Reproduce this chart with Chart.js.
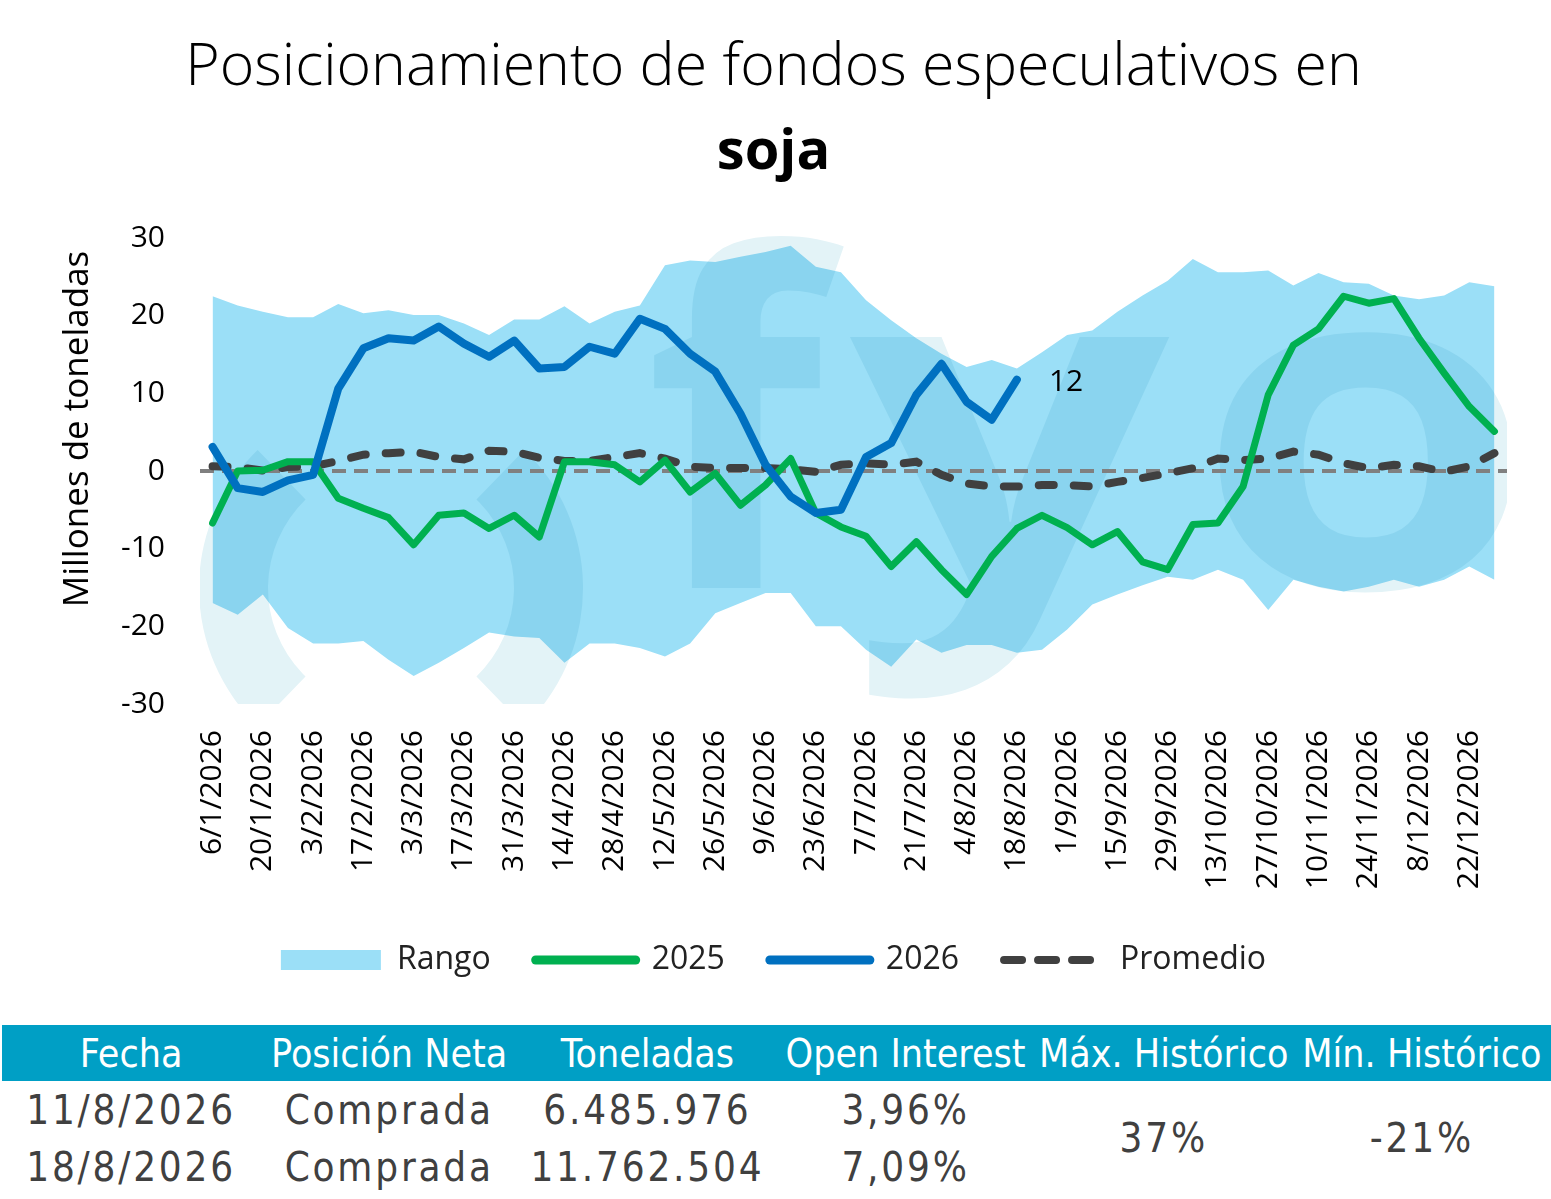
<!DOCTYPE html>
<html>
<head>
<meta charset="utf-8">
<script src="https://cdn.jsdelivr.net/npm/chart.js@4.4.1/dist/chart.umd.min.js"></script>
<style>
  body { margin: 0; background: #fff; }
  #wrap { position: relative; width: 1551px; height: 1010px; }
  table { position: absolute; top: 1025px; left: 2px; width: 1549px; border-collapse: collapse; table-layout: fixed; }
  th { background: #009fc5; color: #fff; font: 39px "DejaVu Sans Condensed", sans-serif; height: 56px; padding: 0; white-space: nowrap; overflow: hidden; }
  td { font: 40px "DejaVu Sans Condensed", sans-serif; color: #404040; letter-spacing: 2.8px; height: 57px; text-align: center; padding: 0; white-space: nowrap; }
</style>
</head>
<body>
<div id="wrap"><canvas id="grafico" width="1551" height="1010"></canvas></div>
<table id="tabla"><thead><tr id="cabecera"></tr></thead><tbody id="cuerpo"></tbody></table>
<script>
const fechas = ['6/1/2026', '13/1/2026', '20/1/2026', '27/1/2026', '3/2/2026', '10/2/2026', '17/2/2026', '24/2/2026',
  '3/3/2026', '10/3/2026', '17/3/2026', '24/3/2026', '31/3/2026', '7/4/2026', '14/4/2026', '21/4/2026', '28/4/2026',
  '5/5/2026', '12/5/2026', '19/5/2026', '26/5/2026', '2/6/2026', '9/6/2026', '16/6/2026', '23/6/2026', '30/6/2026',
  '7/7/2026', '14/7/2026', '21/7/2026', '28/7/2026', '4/8/2026', '11/8/2026', '18/8/2026', '25/8/2026', '1/9/2026',
  '8/9/2026', '15/9/2026', '22/9/2026', '29/9/2026', '6/10/2026', '13/10/2026', '20/10/2026', '27/10/2026',
  '3/11/2026', '10/11/2026', '17/11/2026', '24/11/2026', '1/12/2026', '8/12/2026', '15/12/2026', '22/12/2026', '29/12/2026'];

const serie2025 = [-6.7, 0, 0.1, 1.2, 1.2, -3.5, -4.8, -6, -9.5, -5.7, -5.4, -7.4, -5.7, -8.5, 1.2, 1.2, 0.8, -1.4,
  1.4, -2.7, -0.3, -4.4, -1.8, 1.6, -5.4, -7.2, -8.4, -12.3, -9.1, -12.7, -15.9, -11, -7.4, -5.7, -7.3,
  -9.5, -7.8, -11.7, -12.7, -6.9, -6.7, -2, 9.8, 16.2, 18.3, 22.5, 21.6, 22.2, 17.1, 12.6, 8.3, 5.1];

const serie2026 = [3.1, -2.2, -2.7, -1.2, -0.5, 10.6, 15.8, 17.1, 16.8, 18.6, 16.4, 14.7, 16.8, 13.2, 13.4, 16, 15.1, 19.6,
  18.3, 15.1, 12.8, 7.4, 0.8, -3.3, -5.4, -5, 1.8, 3.6, 9.8, 13.8, 8.9, 6.6, 11.76];

const promedio = [0.6, 0.5, 0.05, 0.5, 0.6, 1.3, 2.1, 2.3, 2.5, 1.8, 1.5, 2.6, 2.5, 1.7, 1.3, 1.3, 1.8, 2.3,
  1.6, 0.55, 0.4, 0.4, 0.4, 0.2, -0.1, 0.8, 1, 0.8, 1.2, -0.5, -1.6, -2, -2, -1.8, -1.8,
  -2, -1.4, -0.9, -0.3, 0.35, 1.6, 1.4, 1.6, 2.5, 2.1, 1, 0.35, 0.8, 0.6, -0.1, 0.6, 2.3];

const rangoMax = [22.5, 21.3, 20.5, 19.8, 19.8, 21.5, 20.3, 20.7, 20.1, 20.1, 19, 17.5, 19.5, 19.5, 21.2, 19, 20.5, 21.3,
  26.5, 27.1, 26.9, 27.6, 28.2, 29, 26.3, 25.6, 22, 19.4, 17.1, 15.1, 13.4, 14.3, 13.2, 15.3,
  17.5, 18.1, 20.5, 22.6, 24.5, 27.3, 25.6, 25.6, 25.8, 23.9, 25.5, 24.3, 24.1, 22.6, 22.1, 22.6, 24.3, 23.8];

const rangoMin = [-17, -18.5, -15.9, -20.2, -22.2, -22.2, -21.9, -24.3, -26.4, -24.7, -22.8, -20.8, -21.3, -21.5, -24.7, -22.2, -22.2, -22.8,
  -23.9, -22.2, -18.3, -17, -15.7, -15.7, -20, -20, -23, -25.2, -21.7, -23.4, -22.4, -22.4, -23.4, -23,
  -20.4, -17.2, -15.9, -14.7, -13.6, -14, -12.7, -14, -17.9, -14, -14.9, -15.5, -14.9, -14, -14.9, -14, -12.3, -14];

const columnas = ['Fecha', 'Posición Neta', 'Toneladas', 'Open Interest', 'Máx. Histórico', 'Mín. Histórico'];
const filas = [
  ['11/8/2026', 'Comprada', '6.485.976', '3,96%'],
  ['18/8/2026', 'Comprada', '11.762.504', '7,09%']
];
const maxHistorico = '37%';
const minHistorico = '-21%';
const tituloEjeY = 'Millones de toneladas';

const AZUL_RANGO = '#9bdff7';

// marca de agua "fyo" tenue, mezclada con multiply sobre el rango
const marcaAgua = {
  id: 'marcaAgua',
  afterDatasetDraw(chart, args) {
    if (args.index !== 4) return;
    const { ctx, chartArea } = chart;
    const L = chartArea.left, T = chartArea.top;
    ctx.save();
    ctx.beginPath();
    ctx.rect(chartArea.left, 0, chartArea.right - chartArea.left, chartArea.bottom);
    ctx.clip();
    ctx.globalCompositeOperation = 'multiply';
    ctx.fillStyle = '#e3f3f7';
    // anillo cortado
    const cx = L + 191, cy = T + 350, R = 192, r = 123;
    [[-46, 46], [134, 226]].forEach(([a0, a1]) => {
      ctx.beginPath();
      ctx.arc(cx, cy, R, a0 * Math.PI / 180, a1 * Math.PI / 180);
      ctx.arc(cx, cy, r, a1 * Math.PI / 180, a0 * Math.PI / 180, true);
      ctx.closePath();
      ctx.fill();
    });
    ctx.font = 'bold 460px "Open Sans", sans-serif';
    ctx.textBaseline = 'alphabetic';
    [['f', 445, 1], ['y', 650, 1.22], ['o', 995, 1.2]].forEach(([t, dx, sx]) => {
      ctx.save();
      ctx.translate(L + dx, T + 350);
      ctx.scale(sx, 1);
      ctx.fillText(t, 0, 0);
      ctx.restore();
    });
    ctx.restore();
  }
};

// linea punteada en cero, encima del rango y debajo de las series
const lineaCero = {
  id: 'lineaCero',
  afterDatasetDraw(chart, args) {
    if (args.index !== 3) return;
    const { ctx, chartArea, scales } = chart;
    const y = scales.y.getPixelForValue(0);
    ctx.save();
    ctx.strokeStyle = '#808080';
    ctx.lineWidth = 4;
    ctx.setLineDash([14, 8]);
    ctx.beginPath();
    ctx.moveTo(chartArea.left, y);
    ctx.lineTo(chartArea.right, y);
    ctx.stroke();
    ctx.restore();
  }
};

// valor del ultimo dato 2026 y titulo del eje Y (algo por encima del centro)
const textosExtra = {
  id: 'textosExtra',
  afterDatasetsDraw(chart) {
    const meta = chart.getDatasetMeta(0);
    const p = meta.data[meta.data.length - 1];
    const { ctx, chartArea } = chart;
    ctx.save();
    ctx.font = '30px "Open Sans", sans-serif';
    ctx.fillStyle = '#000';
    ctx.textAlign = 'left';
    ctx.textBaseline = 'middle';
    ctx.fillText(Math.round(serie2026[serie2026.length - 1]), p.x + 32, p.y + 3);

    ctx.translate(chartArea.left - 122, (chartArea.top + chartArea.bottom) / 2 - 42);
    ctx.rotate(-Math.PI / 2);
    ctx.textAlign = 'center';
    ctx.font = '35px "Open Sans", sans-serif';
    ctx.fillText(tituloEjeY, 0, 0);
    ctx.restore();
  }
};

const ctx = document.getElementById('grafico').getContext('2d');
const grafico = new Chart(ctx, {
  type: 'line',
  data: {
    labels: fechas,
    datasets: [{
      label: '2026',
      data: serie2026,
      borderColor: '#0070c0',
      borderWidth: 8,
      pointRadius: 0,
      borderJoinStyle: 'round',
      borderCapStyle: 'round',
      tension: 0
    }, {
      label: '2025',
      data: serie2025,
      borderColor: '#00b050',
      borderWidth: 7,
      pointRadius: 0,
      borderJoinStyle: 'round',
      borderCapStyle: 'round',
      tension: 0
    }, {
      label: 'Promedio',
      data: promedio,
      borderColor: '#404040',
      borderWidth: 8,
      borderDash: [15, 20],
      borderCapStyle: 'round',
      pointRadius: 0,
      tension: 0
    }, {
      label: 'Rango min',
      data: rangoMin,
      borderWidth: 0,
      borderColor: 'rgba(0,0,0,0)',
      pointRadius: 0,
      fill: false
    }, {
      label: 'Rango',
      data: rangoMax,
      borderWidth: 0,
      borderColor: 'rgba(0,0,0,0)',
      backgroundColor: AZUL_RANGO,
      pointRadius: 0,
      fill: '-1'
    }]
  },
  options: {
    responsive: false,
    animation: false,
    layout: { padding: { left: 40, right: 44, bottom: 24 } },
    scales: {
      x: {
        offset: true,
        grid: { display: false },
        border: { display: false },
        afterFit: (scale) => { scale.height = 195; },
        ticks: {
          autoSkip: false,
          maxRotation: 90,
          minRotation: 90,
          padding: 18,
          color: '#000',
          font: { family: 'Open Sans', size: 30 },
          callback: function (v, i) { return i % 2 === 0 ? this.getLabelForValue(v) : ''; }
        }
      },
      y: {
        min: -30,
        max: 30,
        grid: { display: false },
        border: { display: false },
        afterFit: (scale) => { scale.width = 160; },
        ticks: {
          stepSize: 10,
          padding: 27,
          color: '#000',
          font: { family: 'Open Sans', size: 30 }
        }
      }
    },
    plugins: {
      title: {
        display: true,
        text: 'Posicionamiento de fondos especulativos en',
        color: '#000',
        font: { family: 'Open Sans', size: 59, weight: 300 },
        padding: { top: 33, bottom: 0 }
      },
      subtitle: {
        display: true,
        text: 'soja',
        color: '#000',
        font: { family: 'Open Sans', size: 56, weight: 'bold' },
        padding: { top: 16, bottom: 51 }
      },
      legend: {
        position: 'bottom',
        labels: {
          usePointStyle: true,
          pointStyleWidth: 100,
          boxHeight: 20,
          padding: 45,
          color: '#222',
          font: { family: 'Open Sans', size: 32 },
          generateLabels: function (chart) {
            const ds = chart.data.datasets;
            return [
              { text: 'Rango', datasetIndex: 4, pointStyle: 'rect', fillStyle: AZUL_RANGO, strokeStyle: AZUL_RANGO, lineWidth: 0, fontColor: '#222' },
              { text: '2025', datasetIndex: 1, pointStyle: 'line', strokeStyle: ds[1].borderColor, lineWidth: 9, lineCap: 'round', fontColor: '#222' },
              { text: '2026', datasetIndex: 0, pointStyle: 'line', strokeStyle: ds[0].borderColor, lineWidth: 9, lineCap: 'round', fontColor: '#222' },
              { text: 'Promedio', datasetIndex: 2, pointStyle: 'line', strokeStyle: ds[2].borderColor, lineWidth: 8, lineCap: 'round', lineDash: [18, 16], fontColor: '#222' }
            ];
          }
        }
      },
      tooltip: { enabled: false }
    }
  },
  plugins: [marcaAgua, lineaCero, textosExtra]
});

// tabla resumen
const cabecera = document.getElementById('cabecera');
columnas.forEach(c => { cabecera.innerHTML += `<th>${c}</th>`; });
const cuerpo = document.getElementById('cuerpo');
filas.forEach((f, i) => {
  let row = '<tr>' + f.map(v => `<td>${v}</td>`).join('');
  if (i === 0) {
    row += `<td rowspan="2">${maxHistorico}</td><td rowspan="2">${minHistorico}</td>`;
  }
  cuerpo.innerHTML += row + '</tr>';
});
</script>
</body>
</html>
